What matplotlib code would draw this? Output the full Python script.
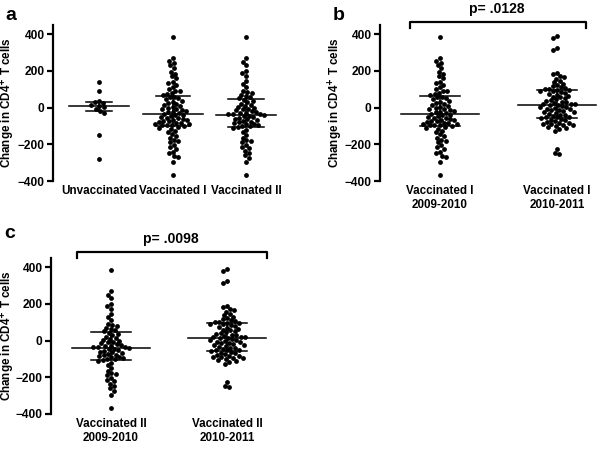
import matplotlib
matplotlib.use('Agg')
import matplotlib.pyplot as plt
import numpy as np

plt.rcParams['font.family'] = ['Liberation Sans', 'DejaVu Sans']
plt.rcParams['font.weight'] = 'bold'

# values (change in CD4+ T cells)
unvaccinated = [140, 93, 38, 30, 25, 15, 8, 2, -8, -20, -28, -150, -278]

vacc1_0910 = [385, 268, 255, 245, 230, 215, 195, 185, 170, 160, 140, 132, 125, 110,
              100, 92, 88, 80, 75, 70,
              60, 55, 50, 45, 38, 30, 25, 20, 15, 8, 2, -2, -5, -10, -14, -18,
              -22, -26, -30, -33,
              -38, -42, -46, -50, -55, -58, -62, -65, -68, -72, -75, -78, -82,
              -85, -88, -90, -93, -95, -97, -99,
              -105, -110, -115, -125, -135, -145, -155, -165, -175, -180, -190,
              -205, -215, -225, -240, -250, -262, -270, -295, -370]

vacc2_0910 = [383, 268, 250, 230, 198, 188, 170, 145, 128, 110, 92, 85, 80, 70, 62,
              55, 50,
              42, 38, 30, 22, 15, 10, 5, 0, -5, -10, -15, -20, -24, -28, -31, -33,
              -35, -37,
              -40, -44, -48, -52, -56, -60, -64, -68, -72, -76, -80, -84, -88, -92,
              -95, -98, -101, -104,
              -110, -120, -135, -150, -165, -178, -180, -190, -205, -215, -222,
              -235, -248, -260, -275, -295, -370]

vacc_1011 = [390, 378, 325, 312, 190, 182, 172, 165, 158, 145, 138, 130, 122, 115,
             110, 106, 102, 100, 98, 96,
             92, 88, 85, 80, 75, 70, 65, 60, 55, 50, 45, 40, 36, 32, 28, 25, 22, 20,
             18, 16,
             12, 8, 5, 2, -2, -5, -8, -12, -15, -18, -22, -25, -30, -34, -38, -42,
             -46, -50, -52, -54,
             -58, -62, -66, -70, -74, -78, -82, -85, -88, -90, -93, -96, -100, -105,
             -110, -118, -128, -228, -248, -252]

# median and interquartile range as drawn
med_a = [10, -35, -38]
q1_a = [-20, -100, -105]
q3_a = [30, 65, 45]
med_b = [-35, 15]
q1_b = [-100, -55]
q3_b = [65, 95]
med_c = [-38, 12]
q1_c = [-105, -55]
q3_c = [45, 95]

labels_a = ['Unvaccinated', 'Vaccinated I', 'Vaccinated II']
labels_b = ['Vaccinated I\n2009-2010', 'Vaccinated I\n2010-2011']
labels_c = ['Vaccinated II\n2009-2010', 'Vaccinated II\n2010-2011']
p_b = 'p= .0128'
p_c = 'p= .0098'

W, H = 600, 449
fig = plt.figure(figsize=(6, 4.49), dpi=100)

DOT = 4.4  # spacing between dot centres in px


def swarm(values, ppu, d=DOT):
    """beeswarm offsets (px) for values, ppu = px per data unit"""
    vals = np.asarray(values, float)
    order = np.argsort(vals)[::-1]
    ys = vals * ppu
    placed = []
    xs = np.zeros(len(vals))
    for i in order:
        y = ys[i]
        near = [(px, py) for px, py in placed if abs(py - y) < d]
        cands = [0.0]
        for px, py in near:
            w = np.sqrt(d * d - (py - y) ** 2)
            cands += [px - w, px + w]
        cands.sort(key=abs)
        for c in cands:
            ok = True
            for px, py in near:
                if (c - px) ** 2 + (y - py) ** 2 < d * d - 1e-6:
                    ok = False
                    break
            if ok:
                xs[i] = c
                break
        placed.append((xs[i], y))
    return xs


def panel(rect_px, x0_px, step_px, groups, meds, q1s, q3s, labels, med_w, q_w, lab_x):
    left, top, right, bottom = rect_px
    ax = fig.add_axes([left / W, 1 - bottom / H, (right - left) / W, (bottom - top) / H])
    ax.set_ylim(-400, 450)
    ax.set_xlim((left - x0_px) / step_px, (right - x0_px) / step_px)
    ppu = (bottom - top) / 850.0
    for k, vals in enumerate(groups):
        off = swarm(vals, ppu) / step_px
        ax.scatter(k + off, vals, s=12, color='black', linewidths=0, zorder=3)
        mw = med_w[k] / 2 / step_px
        qw = q_w[k] / 2 / step_px
        ax.plot([k - mw, k + mw], [meds[k]] * 2, color='black', lw=1.1, zorder=4)
        ax.plot([k - qw, k + qw], [q1s[k]] * 2, color='black', lw=1.1, zorder=4)
        ax.plot([k - qw, k + qw], [q3s[k]] * 2, color='black', lw=1.1, zorder=4)
        ax.plot([k, k], [q1s[k], q3s[k]], color='black', lw=1.1, zorder=4)
    for s in ['top', 'right', 'bottom']:
        ax.spines[s].set_visible(False)
    ax.spines['left'].set_linewidth(1.6)
    ax.set_yticks([-400, -200, 0, 200, 400])
    ax.tick_params(axis='y', direction='out', length=4, width=1.6, labelsize=8.6, pad=2)
    ax.set_xticks(range(len(groups)))
    ax.set_xticklabels(labels, fontsize=8.4, fontweight='bold')
    ax.tick_params(axis='x', length=0, pad=3)
    ax.set_ylabel('Change in CD4$^{\\mathbf{+}}$ T cells', fontsize=8.4, fontweight='bold')
    ax.yaxis.set_label_coords((lab_x - left) / (right - left), 0.5)
    return ax, ppu


def bracket(ax, x1, x2, y, drop, text, ty):
    ax.plot([x1, x1, x2, x2], [y - drop, y, y, y - drop], color='black', lw=1.6,
            clip_on=False, solid_joinstyle='round')
    ax.text((x1 + x2) / 2 - 0.01, ty, text, ha='center', va='baseline', fontsize=10,
            fontweight='bold')


ax_a, _ = panel((53, 25, 290, 181), 99, 73.5, [unvaccinated, vacc1_0910, vacc2_0910],
                med_a, q1_a, q3_a, labels_a, [60, 60, 59], [26, 34, 36], 17.5)

ax_b, ppu_b = panel((380, 25, 600, 181), 440, 117, [vacc1_0910, vacc_1011],
                    med_b, q1_b, q3_b, labels_b, [78, 78], [40, 40], 345)
bracket(ax_b, (410 - 440) / 117, (586 - 440) / 117, (107.5 - 21.7) / ppu_b, 6 / ppu_b,
        p_b, (107.5 - 13) / ppu_b)

ax_c, ppu_c = panel((51, 258, 290, 414), 111, 116, [vacc2_0910, vacc_1011],
                    med_c, q1_c, q3_c, labels_c, [78, 78], [40, 40], 17.3)
bracket(ax_c, (77 - 111) / 116, (267 - 111) / 116, (341 - 252) / ppu_c, 6 / ppu_c,
        p_c, (341 - 243) / ppu_c)

fig.text(10.5 / W, 1 - 19.5 / H, 'a', fontsize=14, fontweight='bold', ha='center', va='baseline')
fig.text(339 / W, 1 - 20 / H, 'b', fontsize=14, fontweight='bold', ha='center', va='baseline')
fig.text(10 / W, 1 - 238.5 / H, 'c', fontsize=14, fontweight='bold', ha='center', va='baseline')

fig.savefig('out.png', dpi=100, facecolor='white')
